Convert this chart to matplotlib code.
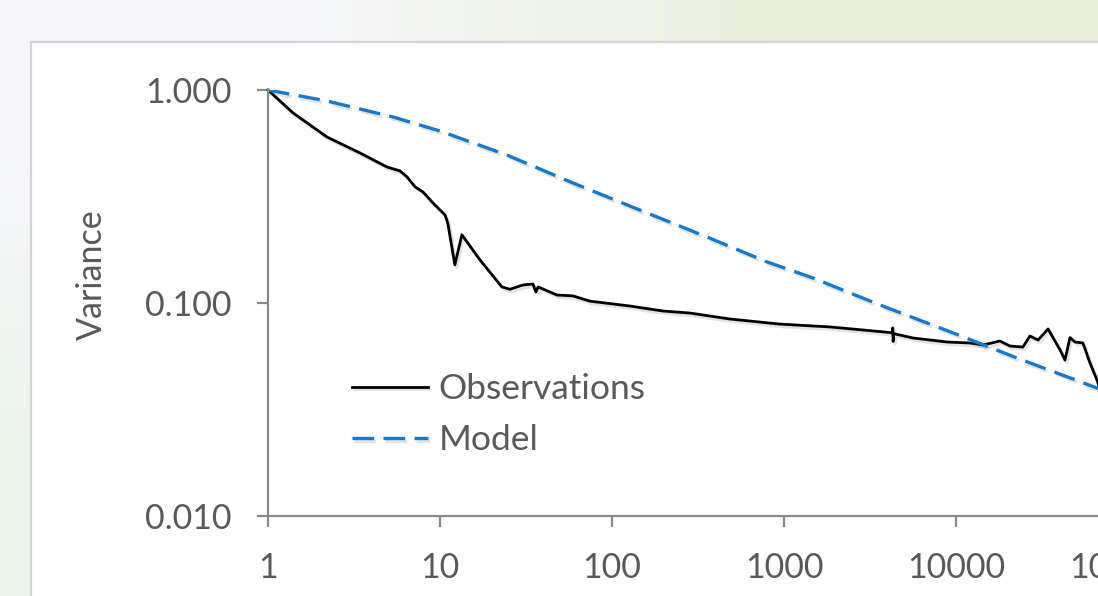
import numpy as np
import matplotlib
matplotlib.use("Agg")
import matplotlib.pyplot as plt
import matplotlib.patheffects as pe
from matplotlib.patches import Rectangle
from matplotlib.ticker import FixedLocator, FixedFormatter, NullLocator

plt.rcParams['font.family'] = ['Lato', 'DejaVu Sans']

# observations
obs_x = [1.0, 1.4, 2.2, 3.43, 4.92, 5.85, 6.43, 7.16, 7.97, 9.1, 10.7, 11.1,
         12.2, 13.4, 17.1, 22.9, 25.5, 30.4, 34.7, 36.1, 37.2, 47.9, 59.3,
         74.5, 127, 198, 284, 485, 948, 1850, 2880, 4250, 4290, 4310, 4350,
         5620, 8870, 12060, 14360, 18000, 20600, 24500, 26900, 30000, 34300,
         36600, 40300, 43000, 46000, 49200, 54700, 60100, 66000, 72000]
obs_y = [1.0, 0.78, 0.602, 0.506, 0.435, 0.417, 0.391, 0.351, 0.332, 0.295,
         0.259, 0.237, 0.151, 0.209, 0.159, 0.119, 0.116, 0.1215, 0.1228,
         0.1127, 0.119, 0.109, 0.108, 0.102, 0.0968, 0.0917, 0.0897, 0.0841,
         0.0796, 0.0772, 0.0747, 0.0725, 0.0765, 0.066, 0.0718, 0.0685,
         0.0656, 0.0649, 0.0635, 0.0663, 0.0628, 0.0621, 0.070, 0.067,
         0.0755, 0.0688, 0.0602, 0.054, 0.0688, 0.0656, 0.0649, 0.0523,
         0.0435, 0.035]

# model curve
mod_x = [1, 2.2, 5.33, 10, 24.5, 59.3, 145.5, 357, 796, 1475, 3614, 10000,
         22600, 66000, 100000]
mod_y = [1.0, 0.888, 0.747, 0.642, 0.495, 0.366, 0.273, 0.204, 0.156, 0.131,
         0.0979, 0.0715, 0.0552, 0.0399, 0.035]

x_ticks = [1, 10, 100, 1000, 10000, 100000]
x_labels = ['1', '10', '100', '1000', '10000', '100000']
y_ticks = [0.01, 0.1, 1.0]
y_labels = ['0.010', '0.100', '1.000']

TXT = '#595959'
AXC = '#898989'
BLUE = '#1a78c6'

fig = plt.figure(figsize=(10.98, 5.96), dpi=100)

# slide background + white chart panel
bg = fig.add_axes([0, 0, 1, 1], zorder=-2)
grad = np.array([[[0.97, 0.97, 0.985], [0.91, 0.935, 0.85]],
                 [[0.92, 0.955, 0.92], [0.91, 0.935, 0.86]]])
bg.imshow(grad, extent=[0, 1, 0, 1], aspect='auto', interpolation='bilinear')
bg.add_patch(Rectangle((31 / 1098, -0.1), 1.2, 1 - 42 / 596 + 0.1,
                       facecolor='white', edgecolor='#d4d4d4', linewidth=1.6))
bg.set_xlim(0, 1)
bg.set_ylim(0, 1)
bg.axis('off')

ax = fig.add_axes([268 / 1098, 1 - 516 / 596, 860 / 1098, 426 / 596])
ax.set_facecolor('none')

shadow = [pe.SimpleLineShadow(offset=(1.5, -2.0), shadow_color='0.4', alpha=0.18),
          pe.Normal()]
ax.plot(obs_x, obs_y, color='black', linewidth=2.0, label='Observations',
        path_effects=shadow, clip_on=False)
ax.plot(mod_x, mod_y, color=BLUE, linewidth=2.4, dashes=(6.5, 2.8),
        label='Model', path_effects=shadow)

ax.set_xscale('log')
ax.set_yscale('log')
ax.set_xlim(1, 100000)
ax.set_ylim(0.01, 1.0)

ax.xaxis.set_major_locator(FixedLocator(x_ticks))
ax.xaxis.set_major_formatter(FixedFormatter(x_labels))
ax.xaxis.set_minor_locator(NullLocator())
ax.yaxis.set_major_locator(FixedLocator(y_ticks))
ax.yaxis.set_major_formatter(FixedFormatter(y_labels))
ax.yaxis.set_minor_locator(NullLocator())

for s in ['top', 'right']:
    ax.spines[s].set_visible(False)
for s in ['left', 'bottom']:
    ax.spines[s].set_color(AXC)
    ax.spines[s].set_linewidth(1.6)

ax.tick_params(which='major', direction='out', length=8, width=1.6,
               color=AXC, labelcolor=TXT, labelsize=24.5, pad=18)

ax.set_ylabel('Variance', color=TXT, fontsize=24.5)
ax.yaxis.set_label_coords(-0.186, 0.566)

leg = ax.legend(loc='upper left', bbox_to_anchor=(352 / 1098, 1 - 373 / 596),
                bbox_transform=fig.transFigure, frameon=False, fontsize=25.5,
                handlelength=2.15, handletextpad=0.3, labelspacing=0.55,
                borderpad=0, borderaxespad=0)
for t in leg.get_texts():
    t.set_color(TXT)

fig.savefig('out.png', dpi=100)
